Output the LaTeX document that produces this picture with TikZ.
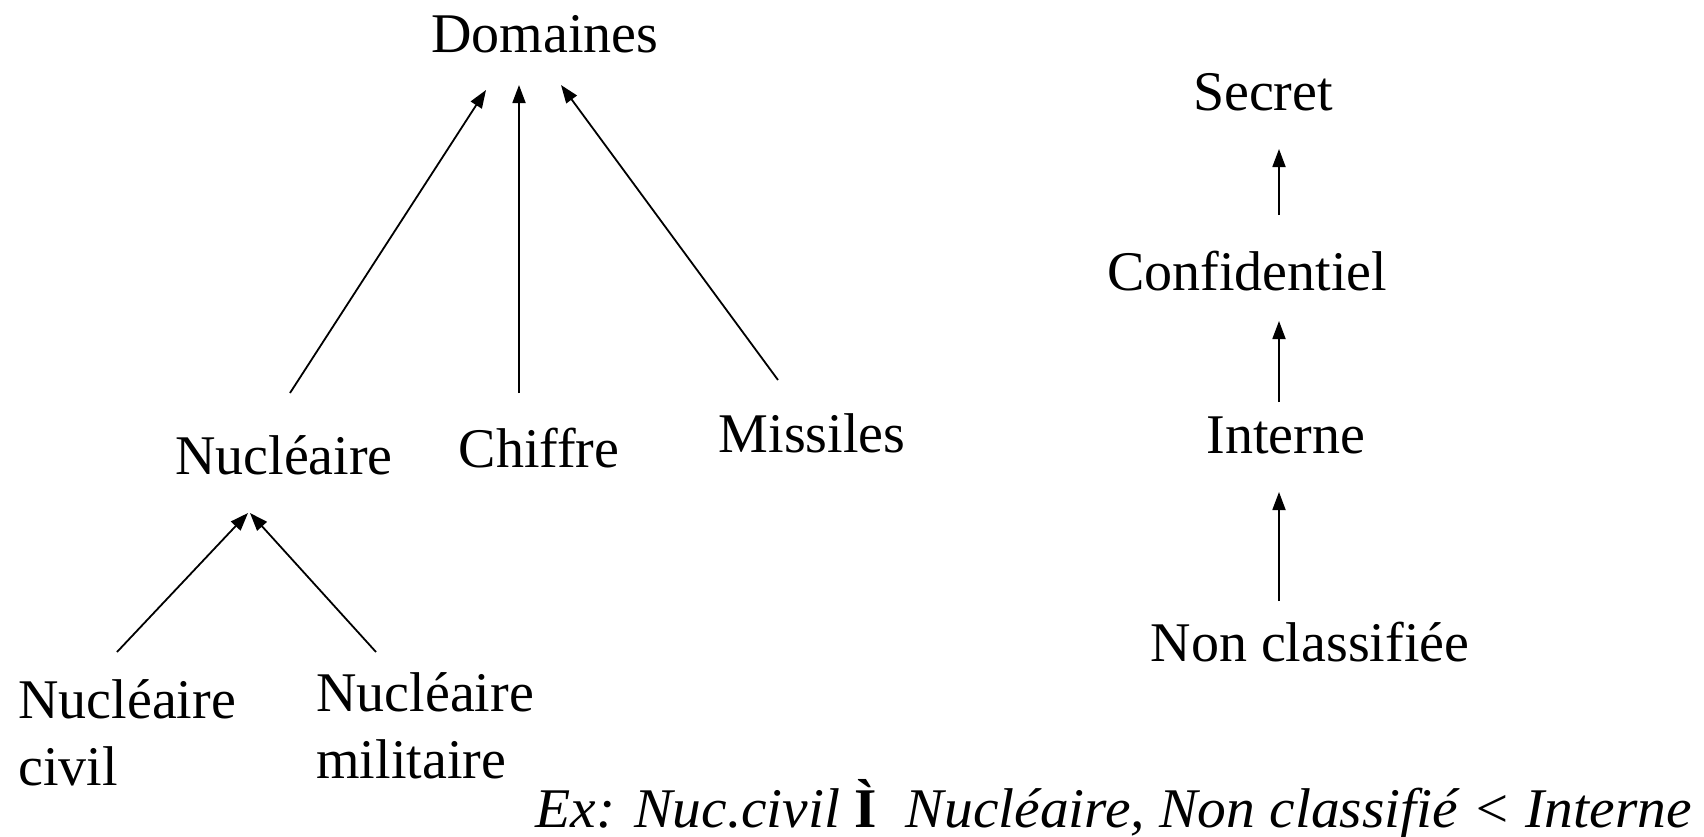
\documentclass[tikz,border=0pt]{standalone}
\usepackage{fontspec}
\setmainfont{Liberation Serif}
\usetikzlibrary{arrows.meta,calc}

\begin{document}
\begin{tikzpicture}[x=0.5pt,y=-0.5pt,
  level/.style={inner sep=0pt,anchor=base,font=\fontsize{28}{33.5}\selectfont},
  leaf/.style={level,anchor=base west,align=left},
  order/.style={-{Triangle[length=9pt,width=6.5pt]},line width=0.9pt}]
\useasboundingbox (0,0) rectangle (1704,836);

% domaines
\node[level] (domaines) at (545,52) {Domaines};
\node[level] (nucleaire) at (284,474) {Nucléaire};
\node[level] (chiffre) at (539,467) {Chiffre};
\node[level] (missiles) at (812,452) {Missiles};
\node[leaf] (nuccivil) at (18,785) {Nucléaire\\civil};
\node[leaf] (nucmil) at (316,778) {Nucléaire\\militaire};

\draw[order] ($(nucleaire.base)+(6,-81)$) -- ($(domaines.base)+(-59,38)$);
\draw[order] ($(chiffre.base)+(-20,-74)$) -- ($(domaines.base)+(-26,33)$);
\draw[order] ($(missiles.base)+(-34,-72)$) -- ($(domaines.base)+(16,33)$);
\draw[order] ($(nuccivil.base west)+(99,-133)$) -- ($(nucleaire.base)+(-36,39)$);
\draw[order] ($(nucmil.base west)+(60,-126)$) -- ($(nucleaire.base)+(-34,39)$);

% niveaux
\node[level] (secret) at (1263,110) {Secret};
\node[level] (confidentiel) at (1247,290) {Confidentiel};
\node[level] (interne) at (1286,453) {Interne};
\node[level] (nonclass) at (1310,661) {Non classifiée};

\draw[order] ($(confidentiel.base)+(32,-75)$) -- ($(secret.base)+(16,39)$);
\draw[order] ($(interne.base)+(-7,-51)$) -- ($(confidentiel.base)+(32,31)$);
\draw[order] ($(nonclass.base)+(-31,-60)$) -- ($(interne.base)+(-7,39)$);

\node[leaf] (exemple) at (535,827) {\scalebox{1.027}[1]{\itshape Ex: Nuc.civil \textbf{\upshape Ì}\ \ Nucléaire, Non classifié < Interne}};
\end{tikzpicture}
\end{document}
